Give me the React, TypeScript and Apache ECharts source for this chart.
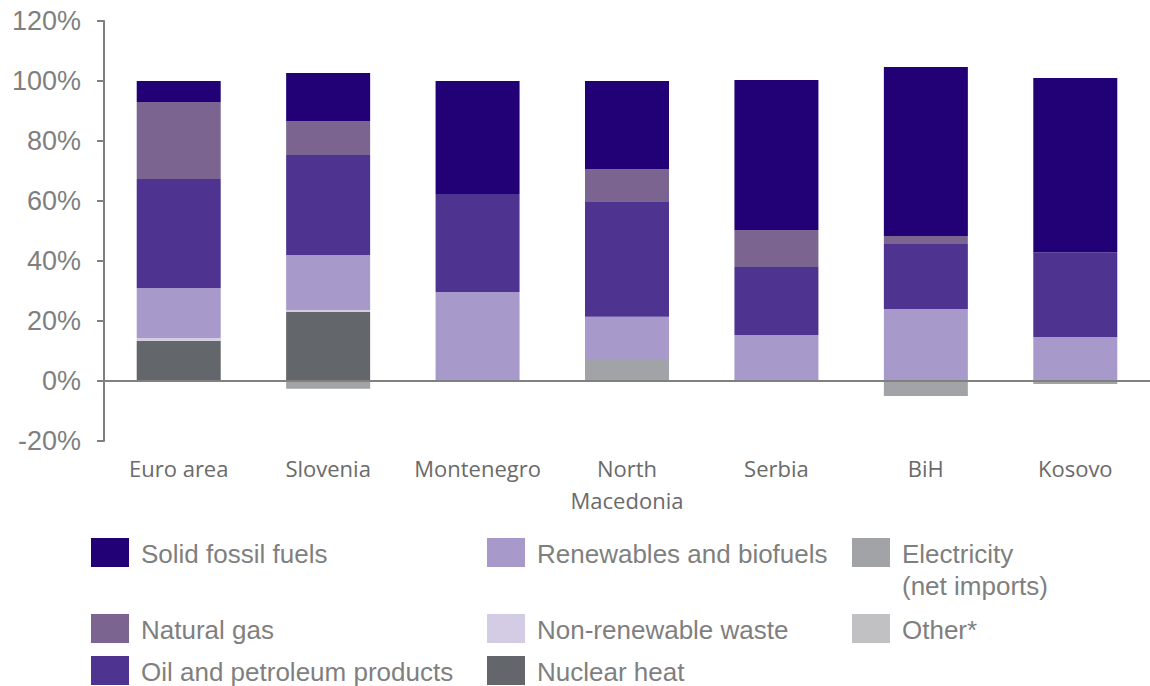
import React, { useEffect, useRef } from "react";
import * as echarts from "echarts";

const categories = ["Euro area", "Slovenia", "Montenegro", "North\nMacedonia", "Serbia", "BiH", "Kosovo"];

const seriesNames = [
  "Electricity (net imports)",
  "Other*",
  "Nuclear heat",
  "Non-renewable waste",
  "Renewables and biofuels",
  "Oil and petroleum products",
  "Natural gas",
  "Solid fossil fuels",
];

const electricity = [0, -2.6, 0, 7.3, 0, -5, -1];
const other = [0, 0, 0, 0, 0, 0, 0];
const nuclear = [13.4, 23, 0, 0, 0, 0, 0];
const waste = [0.9, 0.7, 0, 0, 0, 0, 0];
const renewables = [16.7, 18.3, 29.7, 14.1, 15.3, 24, 14.7];
const oil = [36.3, 33.3, 32.6, 38.3, 22.7, 21.7, 28.2];
const gas = [25.7, 11.4, 0, 11, 12.3, 2.6, 0];
const solid = [7, 16, 37.7, 29.3, 50, 56.4, 58.1];

const seriesValues = [electricity, other, nuclear, waste, renewables, oil, gas, solid];

const colors = [
  "#A2A3A6",
  "#C1C1C3",
  "#63666A",
  "#D4CCE5",
  "#A899CB",
  "#4E3391",
  "#7B6590",
  "#220075",
];

const yTicks = { min: -20, max: 120, interval: 20 };

// legend layout: [seriesIndex, column, row]
const legendLayout = [
  [7, 0, 0],
  [6, 0, 1],
  [5, 0, 2],
  [4, 1, 0],
  [3, 1, 1],
  [2, 1, 2],
  [0, 2, 0],
  [1, 2, 1],
];
const legendColX = [91, 487, 852];
const legendRowY = [538, 614, 656];

export default function App() {
  const ref = useRef<HTMLDivElement>(null);

  useEffect(() => {
    if (!ref.current) return;
    const chart = echarts.init(ref.current, null, { renderer: "svg" });

    const series: any[] = seriesNames.map((name, i) => {
      const s: any = {
        name,
        type: "bar",
        stack: "total",
        barWidth: 84,
        data: seriesValues[i],
        itemStyle: { color: colors[i] },
      };
      if (i === 0) {
        s.markLine = {
          silent: true,
          symbol: ["none", "none"],
          label: { show: false },
          lineStyle: { color: "#808080", width: 2, type: "solid" },
          data: [{ yAxis: 0 }],
          z: 10,
        };
      }
      return s;
    });

    const graphic: any[] = [];
    legendLayout.forEach(([si, col, row]) => {
      const x = legendColX[col];
      const y = legendRowY[row];
      graphic.push({
        type: "rect",
        left: x,
        top: y,
        shape: { width: 38, height: 29 },
        style: { fill: colors[si] },
      });
      const label = si === 0 ? "Electricity\n(net imports)" : seriesNames[si];
      graphic.push({
        type: "text",
        left: x + 50,
        top: y,
        style: {
          text: label,
          fill: "#7f7f7f",
          font: "26px 'Liberation Sans', Arial, sans-serif",
          lineHeight: 32,
        },
      });
    });

    chart.setOption({
      animation: false,
      grid: { left: 104, top: 21, width: 1050, height: 420 },
      xAxis: {
        type: "category",
        data: categories,
        axisLine: { show: false, onZero: false },
        axisTick: { show: false },
        axisLabel: {
          interval: 0,
          margin: 11,
          color: "#6a6a6a",
          fontFamily: "'Open Sans', sans-serif",
          fontSize: 22,
          lineHeight: 32,
        },
      },
      yAxis: {
        type: "value",
        min: yTicks.min,
        max: yTicks.max,
        interval: yTicks.interval,
        axisLine: { show: true, lineStyle: { color: "#808080", width: 2 } },
        axisTick: { show: true, length: 7, lineStyle: { color: "#808080", width: 2 } },
        splitLine: { show: false },
        axisLabel: {
          formatter: "{value}%",
          margin: 23,
          color: "#7f7f7f",
          fontFamily: "'Liberation Sans', Arial, sans-serif",
          fontSize: 27,
        },
      },
      series,
      graphic,
    });

    return () => chart.dispose();
  }, []);

  return (
    <div
      ref={ref}
      style={{ position: "absolute", left: 0, top: 0, width: 1150, height: 686, background: "#fff" }}
    />
  );
}
